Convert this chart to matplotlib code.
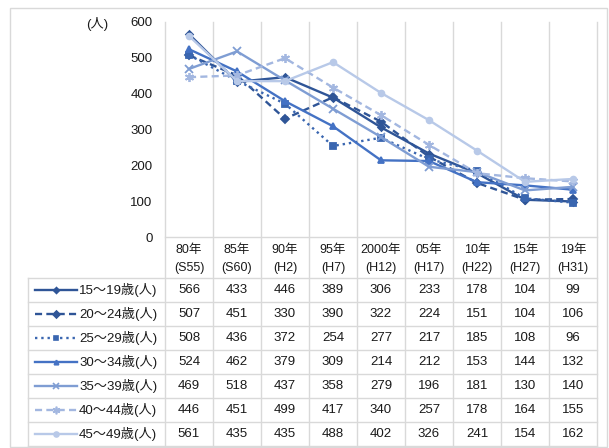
import matplotlib.pyplot as plt
from matplotlib.patches import Rectangle
from matplotlib.lines import Line2D

# データ
years = ['80年', '85年', '90年', '95年', '2000年', '05年', '10年', '15年', '19年']
eras = ['(S55)', '(S60)', '(H2)', '(H7)', '(H12)', '(H17)', '(H22)', '(H27)', '(H31)']
groups = ['15～19歳(人)', '20～24歳(人)', '25～29歳(人)', '30～34歳(人)',
          '35～39歳(人)', '40～44歳(人)', '45～49歳(人)']
v15 = [566, 433, 446, 389, 306, 233, 178, 104, 99]
v20 = [507, 451, 330, 390, 322, 224, 151, 104, 106]
v25 = [508, 436, 372, 254, 277, 217, 185, 108, 96]
v30 = [524, 462, 379, 309, 214, 212, 153, 144, 132]
v35 = [469, 518, 437, 358, 279, 196, 181, 130, 140]
v40 = [446, 451, 499, 417, 340, 257, 178, 164, 155]
v45 = [561, 435, 435, 488, 402, 326, 241, 154, 162]
values = [v15, v20, v25, v30, v35, v40, v45]

dash = (0, (3, 1.8))
styles = [
    dict(color='#2F5597', ls='-', marker='D', ms=3.5),
    dict(color='#2F5597', ls=dash, marker='D', ms=4.2),
    dict(color='#3A66B0', ls=':', marker='s', ms=4.2),
    dict(color='#4472C4', ls='-', marker='^', ms=3.8),
    dict(color='#7F9DD3', ls='-', marker='x', ms=5.5),
    dict(color='#A3B7E0', ls=dash, marker=(6, 2, 0), ms=6.5),
    dict(color='#B8C9E8', ls='-', marker='o', ms=4.2),
]

font = ['Liberation Sans', 'Noto Sans CJK JP', 'DejaVu Sans']
plt.rcParams['font.family'] = font
plt.rcParams['font.size'] = 9.5

W, H = 609, 448
fig = plt.figure(figsize=(W / 100, H / 100), dpi=100)

# 表レイアウト (ピクセル)
x0, cw = 165, 48
y_top, y_zero = 22, 237
head_bot = 278
rh = 24
leg_left = 28
grid_c = '#D9D9D9'
txt_c = '#1A1A1A'
n = len(years)

ax = fig.add_axes([x0 / W, 1 - y_zero / H, n * cw / W, (y_zero - y_top) / H])
ax.set_xlim(-0.5, n - 0.5)
ax.set_ylim(0, 600)
for s in ax.spines.values():
    s.set_visible(False)
ax.set_xticks([])
ax.set_yticks(range(0, 601, 100))
ax.tick_params(axis='y', length=0, pad=9, labelsize=9.5, labelcolor=txt_c)
ax.patch.set_alpha(0)

for vals, st, g in zip(values, styles, groups):
    ax.plot(range(n), vals, color=st['color'], ls=st['ls'], lw=1.7,
            marker=st['marker'], ms=st['ms'], mec=st['color'], mfc=st['color'],
            mew=1.3, label=g, zorder=3)

# オーバーレイ (表と枠)
ov = fig.add_axes([0, 0, 1, 1], zorder=-1)
ov.set_xlim(0, W)
ov.set_ylim(H, 0)
ov.axis('off')
ov.add_patch(Rectangle((10, 8), 597, 439, fill=False, ec=grid_c, lw=1))

bottom = head_bot + rh * len(groups)
for i in range(n + 1):
    ov.plot([x0 + cw * i] * 2, [y_top, bottom], color=grid_c, lw=1)
ov.plot([x0, x0 + cw * n], [y_zero, y_zero], color=grid_c, lw=1)
for j in range(len(groups) + 1):
    y = head_bot + rh * j
    ov.plot([leg_left, x0 + cw * n], [y, y], color=grid_c, lw=1)
ov.plot([leg_left, leg_left], [head_bot, bottom], color=grid_c, lw=1)

ov.text(97, 24, '(人)', ha='center', va='center', fontsize=9.5, color=txt_c)

for i in range(n):
    cx = x0 + cw * (i + 0.5)
    ov.text(cx, 250, years[i], ha='center', va='center', fontsize=9, color=txt_c)
    ov.text(cx, 268, eras[i], ha='center', va='center', fontsize=9, color=txt_c)

for j, (g, vals, st) in enumerate(zip(groups, values, styles)):
    cy = head_bot + rh * (j + 0.5)
    ov.add_line(Line2D([35, 77], [cy, cy], color=st['color'], ls=st['ls'], lw=1.7))
    ov.add_line(Line2D([56], [cy], color=st['color'], marker=st['marker'],
                       ms=st['ms'] * 0.85, mec=st['color'], mfc=st['color'], mew=1.2))
    ov.text(79, cy, g, ha='left', va='center', fontsize=9.5, color=txt_c)
    for i, v in enumerate(vals):
        ov.text(x0 + cw * (i + 0.5), cy, str(v), ha='center', va='center',
                fontsize=9.5, color=txt_c)

fig.savefig('out.png', dpi=100)
